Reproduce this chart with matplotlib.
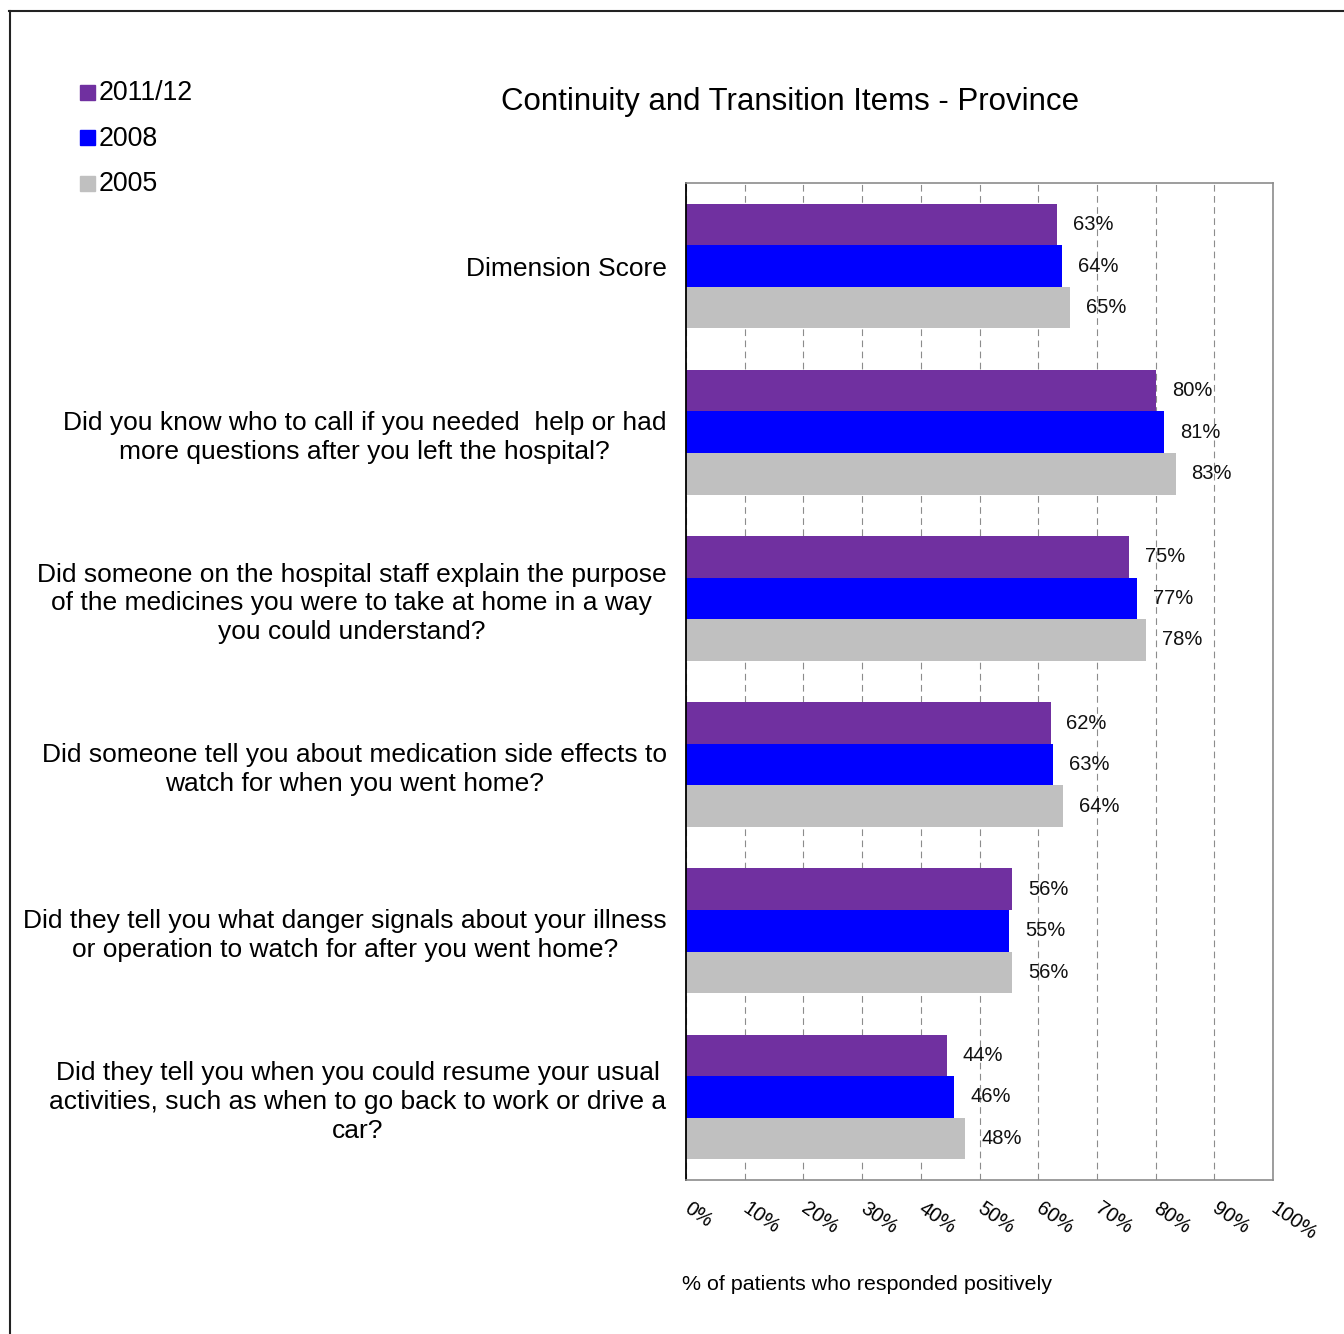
import matplotlib
matplotlib.use("Agg")
import matplotlib.pyplot as plt
from matplotlib.patches import Rectangle
from matplotlib.lines import Line2D

plt.rcParams['font.family'] = ['Liberation Sans', 'DejaVu Sans']

# data
questions = [
    "Dimension Score",
    "Did you know who to call if you needed  help or had\nmore questions after you left the hospital?",
    "Did someone on the hospital staff explain the purpose\nof the medicines you were to take at home in a way\nyou could understand?",
    "Did someone tell you about medication side effects to\nwatch for when you went home?",
    "Did they tell you what danger signals about your illness\nor operation to watch for after you went home?",
    "Did they tell you when you could resume your usual\nactivities, such as when to go back to work or drive a\ncar?",
]
series = ["2011/12", "2008", "2005"]
vals_2011 = [63.2, 80.1, 75.4, 62.1, 55.6, 44.4]
vals_2008 = [64.0, 81.4, 76.8, 62.6, 55.0, 45.7]
vals_2005 = [65.4, 83.4, 78.4, 64.3, 55.6, 47.6]
colors = ["#7030A0", "#0000FF", "#C0C0C0"]
xticks = list(range(0, 101, 10))

W, H = 1344, 1334
fig = plt.figure(figsize=(W / 100, H / 100), dpi=100)

# outer frame (only top and left edges are visible)
fig.add_artist(Line2D([9 / W, 1], [1 - 11 / H, 1 - 11 / H], color='#222222', lw=1.5,
                      transform=fig.transFigure))
fig.add_artist(Line2D([10 / W, 10 / W], [0, 1 - 11 / H], color='#222222', lw=1.5,
                      transform=fig.transFigure))

ax = fig.add_axes([686 / W, 1 - 1180 / H, (1273 - 686) / W, (1180 - 183) / H])

h = 0.25
for k, (vals, name, c) in enumerate(zip([vals_2011, vals_2008, vals_2005], series, colors)):
    for i, v in enumerate(vals):
        y = i + (k - 1) * h
        ax.barh(y, v, height=h, color=c, edgecolor='none', zorder=2)
        ax.annotate(f"{v:.0f}%", xy=(v, y), xytext=(11.5, 0), textcoords='offset points',
                    ha='left', va='center', fontsize=14.5, color='#111111', zorder=3)

ax.set_xlim(0, 100)
ax.set_ylim(5.5, -0.5)
ax.set_yticks(range(len(questions)))
ax.set_yticklabels(questions, fontsize=19, multialignment='center', linespacing=1.25)
ax.tick_params(axis='y', length=0, pad=14)
ax.set_xticks(xticks)
ax.set_xticklabels([f"{t}%" for t in xticks], fontsize=14.5, rotation=-35,
                   ha='left', va='center', rotation_mode='anchor')
ax.tick_params(axis='x', length=0, pad=19)

ax.set_axisbelow(True)
ax.xaxis.grid(True, color='#8c8c8c', lw=0.8, linestyle=(0, (6, 4)))
ax.yaxis.grid(False)
for s in ['top', 'right', 'bottom']:
    ax.spines[s].set_color('#8c8c8c')
    ax.spines[s].set_linewidth(1.2)
ax.spines['left'].set_color('black')
ax.spines['left'].set_linewidth(1.3)

fig.text(790 / W, 1 - 102 / H, "Continuity and Transition Items - Province",
         ha='center', va='center', fontsize=22.5)
fig.text(682 / W, 1 - 1284 / H, "% of patients who responded positively",
         ha='left', va='center', fontsize=15.4)

# legend
for k, (name, c) in enumerate(zip(series, colors)):
    yc = 92 + k * 45.5
    fig.add_artist(Rectangle((80 / W, 1 - (yc + 7.5) / H), 15 / W, 15 / H,
                             color=c, transform=fig.transFigure))
    fig.text(99 / W, 1 - (yc + 1) / H, name, ha='left', va='center', fontsize=19.3)

fig.savefig("out.png", dpi=100)
